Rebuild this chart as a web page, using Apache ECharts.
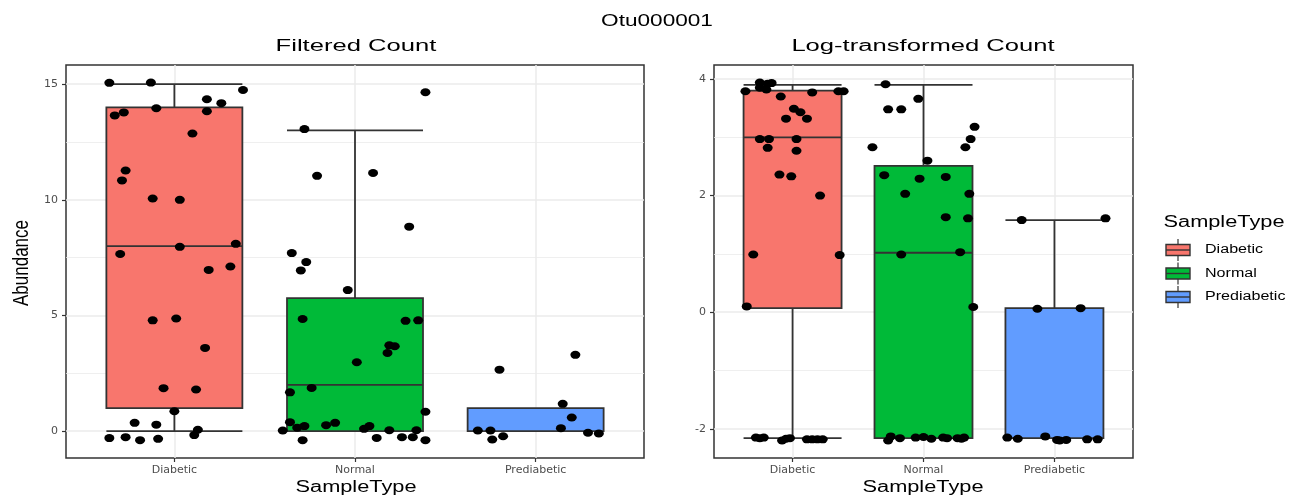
<!DOCTYPE html>
<html>
<head>
<meta charset="utf-8">
<title>Otu000001</title>
<script src="https://cdn.jsdelivr.net/npm/echarts@6/dist/echarts.min.js"></script>
<style>
  html, body { margin: 0; padding: 0; background: #fff; }
  #main { width: 1303px; height: 501px; }
</style>
</head>
<body>
<div id="main"></div>
<script>
var categories = ['Diabetic', 'Normal', 'Prediabetic'];
var colors = ['#F8766D', '#00BA38', '#619CFF'];

// box stats: [min, Q1, median, Q3, max]
var countStats = [[0, 1, 8, 14, 15], [0, 0, 2, 5.75, 13], [0, 0, 0, 1, 1]];
var logStats = [[-2.16, 0.07, 3.0, 3.8, 3.9], [-2.16, -2.16, 1.02, 2.51, 3.9], [-2.16, -2.16, -2.16, 0.07, 1.58]];

var countTicks = [0, 5, 10, 15];
var countMinor = [2.5, 7.5, 12.5];
var logTicks = [-2, 0, 2, 4];
var logMinor = [-1, 1, 3];

// jittered points: [offset from category, value]
var countDiabetic = [[-0.36, 15.06], [-0.13, 15.07], [0.38, 14.75], [0.18, 14.35], [0.26, 14.18], [-0.10, 13.96],
  [-0.33, 13.65], [-0.28, 13.78], [0.18, 13.83], [0.10, 12.87], [-0.27, 11.27], [-0.29, 10.84], [-0.12, 10.06],
  [0.03, 10.0], [0.03, 7.97], [0.34, 8.1], [-0.30, 7.66], [0.31, 7.12], [0.19, 6.97], [-0.12, 4.79], [0.01, 4.87],
  [0.17, 3.6], [-0.06, 1.86], [0.12, 1.8], [0.0, 0.86], [-0.22, 0.36], [-0.10, 0.28], [0.13, 0.06], [0.11, -0.17],
  [-0.36, -0.3], [-0.27, -0.26], [-0.19, -0.39], [-0.09, -0.33]];
var countNormal = [[-0.28, 13.06], [-0.21, 11.04], [0.10, 11.16], [0.39, 14.65], [0.30, 8.84], [-0.35, 7.7],
  [-0.27, 7.31], [-0.30, 6.95], [-0.04, 6.1], [-0.29, 4.85], [0.28, 4.77], [0.35, 4.79], [0.19, 3.71], [0.22, 3.67],
  [0.18, 3.38], [0.01, 2.98], [-0.36, 1.68], [-0.24, 1.87], [0.39, 0.84], [-0.36, 0.39], [-0.40, 0.03], [-0.32, 0.15],
  [-0.28, 0.22], [-0.16, 0.26], [-0.11, 0.36], [0.05, 0.1], [0.08, 0.22], [0.19, 0.04], [0.34, 0.04], [-0.29, -0.39],
  [0.12, -0.29], [0.26, -0.26], [0.32, -0.26], [0.39, -0.39]];
var countPrediabetic = [[-0.20, 2.66], [0.22, 3.3], [0.15, 1.18], [0.20, 0.59], [0.14, 0.13], [-0.32, 0.03],
  [-0.25, 0.03], [-0.24, -0.36], [-0.18, -0.22], [0.29, -0.07], [0.35, -0.1]];

var logDiabetic = [[-0.25, 3.94], [-0.19, 3.92], [-0.16, 3.93], [-0.25, 3.85], [-0.20, 3.82], [-0.36, 3.79],
  [-0.09, 3.70], [0.15, 3.77], [0.35, 3.79], [0.39, 3.79], [0.01, 3.49], [0.06, 3.43], [-0.05, 3.32], [0.11, 3.32],
  [-0.25, 2.97], [-0.18, 2.97], [0.03, 2.97], [-0.19, 2.82], [0.03, 2.77], [-0.10, 2.36], [-0.01, 2.33], [0.21, 2.0],
  [-0.30, 0.99], [0.36, 0.98], [-0.35, 0.10], [-0.28, -2.15], [-0.25, -2.16], [-0.22, -2.15], [-0.08, -2.2],
  [-0.05, -2.17], [-0.02, -2.16], [0.11, -2.18], [0.15, -2.18], [0.19, -2.18], [0.23, -2.18]];
var logNormal = [[-0.29, 3.91], [-0.27, 3.48], [-0.17, 3.48], [-0.04, 3.66], [-0.39, 2.83], [0.03, 2.60],
  [-0.30, 2.35], [-0.03, 2.29], [0.17, 2.32], [-0.14, 2.03], [0.17, 1.63], [-0.17, 0.99], [0.28, 1.03], [0.35, 2.03],
  [0.34, 1.61], [0.32, 2.83], [0.36, 2.97], [0.39, 3.18], [0.38, 0.09], [-0.27, -2.2], [-0.25, -2.13], [-0.18, -2.16],
  [-0.06, -2.15], [0.0, -2.14], [0.06, -2.17], [0.15, -2.15], [0.18, -2.16], [0.29, -2.17], [0.31, -2.15], [0.26, -2.16]];
var logPrediabetic = [[-0.25, 1.58], [0.39, 1.61], [-0.13, 0.06], [0.20, 0.07], [-0.36, -2.15], [-0.28, -2.17],
  [-0.07, -2.13], [0.02, -2.19], [0.04, -2.2], [0.09, -2.19], [0.25, -2.18], [0.33, -2.18]];

var chartDom = document.getElementById('main');
var myChart = echarts.init(chartDom, null, { renderer: 'canvas' });

var gridLine = { color: '#ebebeb', width: 1.5 };
var tickLine = { color: '#333333', width: 1.2 };
var labelFont = { color: '#4d4d4d', fontFamily: 'DejaVu Sans', fontSize: 11 };

function makeX(g) {
  return {
    type: 'value', gridIndex: g, min: -0.6, max: 2.6,
    axisLine: { show: false, onZero: false },
    axisTick: { show: true, length: 4, customValues: [0, 1, 2], lineStyle: tickLine },
    axisLabel: Object.assign({ customValues: [0, 1, 2], margin: 7, formatter: function (v) { return categories[Math.round(v)]; } }, labelFont),
    splitLine: { show: true, lineStyle: gridLine }
  };
}

function makeY(g, min, max, ticks) {
  return {
    type: 'value', gridIndex: g, min: min, max: max, position: 'left',
    axisLine: { show: false, onZero: false },
    axisTick: { show: true, length: 4, customValues: ticks, lineStyle: tickLine },
    axisLabel: Object.assign({ customValues: ticks, margin: 8 }, labelFont),
    splitLine: { show: true, lineStyle: gridLine }
  };
}

function makeMinorY(g, min, max, ticks) {
  return {
    type: 'value', gridIndex: g, min: min, max: max, position: 'left',
    axisLine: { show: false, onZero: false },
    axisTick: { show: false, customValues: ticks },
    axisLabel: { show: false, customValues: ticks },
    splitLine: { show: true, lineStyle: { color: '#ebebeb', width: 0.8 } }
  };
}

function boxData(stats) {
  return stats.map(function (s, i) {
    return { value: [i].concat(s), itemStyle: { color: colors[i] } };
  });
}

function jitter(groups) {
  var out = [];
  groups.forEach(function (pts, i) {
    pts.forEach(function (p) { out.push([i + p[0], p[1]]); });
  });
  return out;
}

function txt(x, y, text, size, sx, extra) {
  return Object.assign({
    type: 'text', x: x, y: y, scaleX: sx, z: 10,
    style: {
      text: text, fill: '#000', font: size + 'px "Liberation Sans", Arial, sans-serif',
      textAlign: 'center', align: 'center', textVerticalAlign: 'middle', verticalAlign: 'middle'
    }
  }, extra || {});
}

var graphics = [
  txt(657, 21, 'Otu000001', 17, 1.33),
  txt(356, 47, 'Filtered Count', 16, 1.6),
  txt(923, 47, 'Log-transformed Count', 16, 1.6),
  txt(356, 488, 'SampleType', 16, 1.36),
  txt(923, 488, 'SampleType', 16, 1.36),
  txt(22, 263, 'Abundance', 17, 1, { rotation: Math.PI / 2, scaleY: 1.3 }),
  txt(1224, 223, 'SampleType', 16, 1.36)
];
categories.forEach(function (name, i) {
  var cy = 250 + i * 23.5;
  graphics.push({ type: 'line', z: 10, shape: { x1: 1178, y1: cy - 11, x2: 1178, y2: cy + 11 }, style: { stroke: '#333', lineWidth: 1.2 } });
  graphics.push({ type: 'rect', z: 11, shape: { x: 1166, y: cy - 5.5, width: 24, height: 11 }, style: { fill: colors[i], stroke: '#333', lineWidth: 1.4 } });
  graphics.push({ type: 'line', z: 12, shape: { x1: 1166, y1: cy, x2: 1190, y2: cy }, style: { stroke: '#333', lineWidth: 1.4 } });
  graphics.push({
    type: 'text', x: 1205, y: cy, scaleX: 1.34, z: 10,
    style: { text: name, fill: '#000', font: '12px "Liberation Sans", Arial, sans-serif', textAlign: 'left', align: 'left', textVerticalAlign: 'middle', verticalAlign: 'middle' }
  });
});

var option = {
  animation: false,
  grid: [
    { left: 66, top: 65, width: 578, height: 393, show: true, borderColor: '#333333', borderWidth: 1.5, backgroundColor: '#ffffff' },
    { left: 714, top: 65, width: 419, height: 393, show: true, borderColor: '#333333', borderWidth: 1.5, backgroundColor: '#ffffff' }
  ],
  xAxis: [makeX(0), makeX(1)],
  yAxis: [
    makeY(0, -1.16, 15.83, countTicks),
    makeMinorY(0, -1.16, 15.83, countMinor),
    makeY(1, -2.5, 4.24, logTicks),
    makeMinorY(1, -2.5, 4.24, logMinor)
  ],
  series: [
    {
      name: 'Filtered Count', type: 'boxplot', xAxisIndex: 0, yAxisIndex: 0,
      boxWidth: [136, 136],
      itemStyle: { borderColor: '#333333', borderWidth: 1.8 },
      emphasis: { disabled: true },
      data: boxData(countStats)
    },
    {
      name: 'Log-transformed Count', type: 'boxplot', xAxisIndex: 1, yAxisIndex: 2,
      boxWidth: [98, 98],
      itemStyle: { borderColor: '#333333', borderWidth: 1.8 },
      emphasis: { disabled: true },
      data: boxData(logStats)
    },
    {
      type: 'scatter', xAxisIndex: 0, yAxisIndex: 0, z: 5,
      symbol: 'circle', symbolSize: [10, 8],
      itemStyle: { color: '#000000', opacity: 1 },
      data: jitter([countDiabetic, countNormal, countPrediabetic])
    },
    {
      type: 'scatter', xAxisIndex: 1, yAxisIndex: 2, z: 5,
      symbol: 'circle', symbolSize: [10, 8],
      itemStyle: { color: '#000000', opacity: 1 },
      data: jitter([logDiabetic, logNormal, logPrediabetic])
    }
  ],
  graphic: graphics
};

option && myChart.setOption(option);
</script>
</body>
</html>
